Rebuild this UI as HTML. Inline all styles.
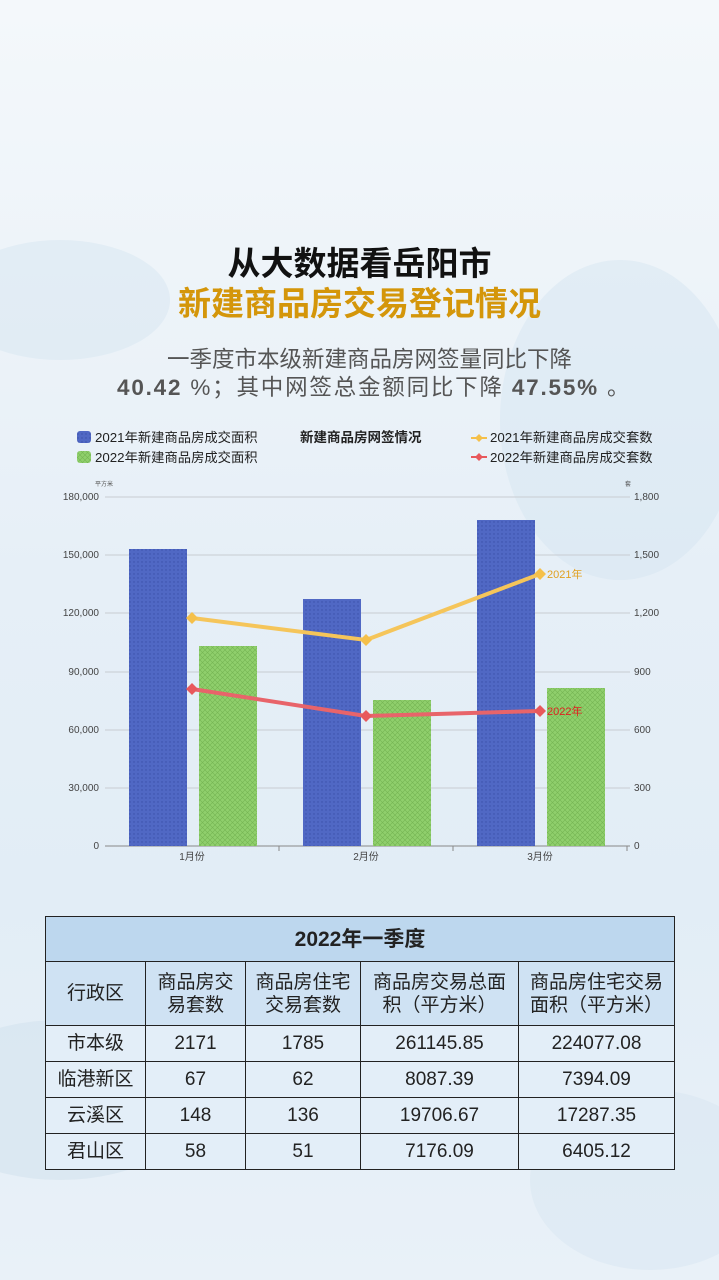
<!DOCTYPE html>
<html><head><meta charset="utf-8"><style>
*{margin:0;padding:0;box-sizing:border-box}
body{width:719px;height:1280px;overflow:hidden;position:relative;font-family:"Liberation Sans","Noto Sans CJK SC",sans-serif;
background:linear-gradient(180deg,#f4f8fb 0%,#eef4f9 20%,#e6eff7 45%,#e2edf6 70%,#e9f1f8 100%);}
.t{position:absolute;left:0;width:719px;text-align:center;font-weight:bold;}
.p{position:absolute;font-size:22.5px;color:#555;white-space:nowrap}
table{position:absolute;left:45px;top:916px;width:630px;border-collapse:collapse;font-size:19px;color:#222;text-align:center}
td{border:1.5px solid #222;line-height:23px}
</style></head><body>
<svg style="position:absolute;left:0;top:0" width="719" height="1280">
<ellipse cx="620" cy="420" rx="120" ry="160" fill="#d6e5f1" opacity=".5"/>
<ellipse cx="60" cy="300" rx="110" ry="60" fill="#dbe8f2" opacity=".6"/>
<ellipse cx="60" cy="1100" rx="140" ry="80" fill="#d3e3ef" opacity=".6"/>
<ellipse cx="650" cy="1180" rx="120" ry="90" fill="#d8e6f1" opacity=".5"/>
</svg>
<div class="t" style="top:237px;font-size:33px;color:#111">从大数据看岳阳市</div>
<div class="t" style="top:277px;font-size:33px;color:#d4960a">新建商品房交易登记情况</div>
<div class="p" style="left:167px;top:342px">一季度市本级新建商品房网签量同比下降</div>
<div class="p" style="left:117px;top:370px;letter-spacing:1.8px"><b>40.42</b> %；其中网签总金额同比下降 <b>47.55%</b> 。</div>
<svg style="position:absolute;left:0;top:0" width="719" height="900" font-family="Liberation Sans,Noto Sans CJK SC,sans-serif">
<defs>
<pattern id="pb" width="4" height="4" patternUnits="userSpaceOnUse"><rect width="4" height="4" fill="#5068c4"/><circle cx="2" cy="2" r=".7" fill="#3a4fa8"/></pattern>
<pattern id="pg" width="5" height="5" patternUnits="userSpaceOnUse"><rect width="5" height="5" fill="#8fcf6c"/><path d="M0 0L5 5M5 0L0 5" stroke="#74b552" stroke-width=".6"/></pattern>
</defs>
<rect x="77" y="431" width="14" height="12" rx="3" fill="url(#pb)"/>
<text x="95" y="442" font-size="13.3" fill="#222">2021年新建商品房成交面积</text>
<rect x="77" y="451" width="14" height="12" rx="3" fill="url(#pg)"/>
<text x="95" y="462" font-size="13.3" fill="#222">2022年新建商品房成交面积</text>
<text x="300" y="442" font-size="13.5" font-weight="bold" fill="#222">新建商品房网签情况</text>
<line x1="471" y1="438" x2="487" y2="438" stroke="#f5c04a" stroke-width="2"/><path d="M479 434L483 438L479 442L475 438Z" fill="#f5c04a"/>
<text x="490" y="442" font-size="13.3" fill="#222">2021年新建商品房成交套数</text>
<line x1="471" y1="457" x2="487" y2="457" stroke="#e8585c" stroke-width="2"/><path d="M479 453L483 457L479 461L475 457Z" fill="#e8585c"/>
<text x="490" y="462" font-size="13.3" fill="#222">2022年新建商品房成交套数</text>
<text x="95" y="486" font-size="6" fill="#555">平方米</text>
<text x="625" y="486" font-size="6" fill="#555">套</text>
<g stroke="#c8ccd2" stroke-width="1">
<line x1="105" y1="497" x2="630" y2="497"/><line x1="105" y1="555" x2="630" y2="555"/><line x1="105" y1="613" x2="630" y2="613"/>
<line x1="105" y1="672" x2="630" y2="672"/><line x1="105" y1="730" x2="630" y2="730"/><line x1="105" y1="788" x2="630" y2="788"/>
</g>
<line x1="105" y1="846" x2="630" y2="846" stroke="#888"/>
<g font-size="10" fill="#444" text-anchor="end">
<text x="99" y="500">180,000</text><text x="99" y="558">150,000</text><text x="99" y="616">120,000</text>
<text x="99" y="675">90,000</text><text x="99" y="733">60,000</text><text x="99" y="791">30,000</text><text x="99" y="849">0</text>
</g>
<g font-size="10" fill="#444">
<text x="634" y="500">1,800</text><text x="634" y="558">1,500</text><text x="634" y="616">1,200</text>
<text x="634" y="675">900</text><text x="634" y="733">600</text><text x="634" y="791">300</text><text x="634" y="849">0</text>
</g>
<g stroke="#888"><line x1="279" y1="846" x2="279" y2="851"/><line x1="453" y1="846" x2="453" y2="851"/><line x1="627" y1="846" x2="627" y2="851"/></g>
<g font-size="10" fill="#444" text-anchor="middle"><text x="192" y="860">1月份</text><text x="366" y="860">2月份</text><text x="540" y="860">3月份</text></g>
<rect x="129" y="549" width="58" height="297" fill="url(#pb)"/>
<rect x="199" y="646" width="58" height="200" fill="url(#pg)"/>
<rect x="303" y="599" width="58" height="247" fill="url(#pb)"/>
<rect x="373" y="700" width="58" height="146" fill="url(#pg)"/>
<rect x="477" y="520" width="58" height="326" fill="url(#pb)"/>
<rect x="547" y="688" width="58" height="158" fill="url(#pg)"/>
<polyline points="192,618 366,640 540,574" fill="none" stroke="#f5c55a" stroke-width="4"/>
<polyline points="192,689 366,716 540,711" fill="none" stroke="#e8646a" stroke-width="4"/>
<g fill="#f5c04a"><path d="M192 612L198 618L192 624L186 618Z"/><path d="M366 634L372 640L366 646L360 640Z"/><path d="M540 568L546 574L540 580L534 574Z"/></g>
<g fill="#e8585c"><path d="M192 683L198 689L192 695L186 689Z"/><path d="M366 710L372 716L366 722L360 716Z"/><path d="M540 705L546 711L540 717L534 711Z"/></g>
<text x="547" y="578" font-size="11" fill="#e0a020">2021年</text>
<text x="547" y="715" font-size="11" fill="#e02020">2022年</text>
</svg>
<table>
<tr style="height:45px;background:#bdd7ee"><td colspan="5" style="font-size:21px;font-weight:bold">2022年一季度</td></tr>
<tr style="height:64px;background:#cfe2f3"><td style="width:100px">行政区</td><td style="width:100px">商品房交<br>易套数</td><td style="width:115px">商品房住宅<br>交易套数</td><td style="width:158px">商品房交易总面<br>积（平方米）</td><td>商品房住宅交易<br>面积（平方米）</td></tr>
<tr style="height:36px;background:#e3eef8"><td>市本级</td><td>2171</td><td>1785</td><td>261145.85</td><td>224077.08</td></tr>
<tr style="height:36px;background:#e3eef8"><td>临港新区</td><td>67</td><td>62</td><td>8087.39</td><td>7394.09</td></tr>
<tr style="height:36px;background:#e3eef8"><td>云溪区</td><td>148</td><td>136</td><td>19706.67</td><td>17287.35</td></tr>
<tr style="height:36px;background:#e3eef8"><td>君山区</td><td>58</td><td>51</td><td>7176.09</td><td>6405.12</td></tr>
</table>
</body></html>
